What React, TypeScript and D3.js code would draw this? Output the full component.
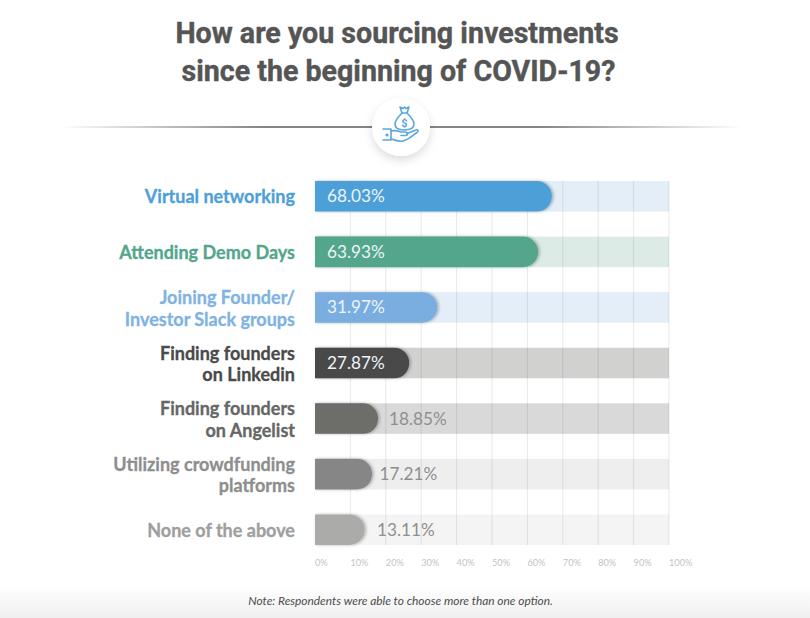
import React from "react";
import * as d3 from "d3";

const categories = [
  "Virtual networking",
  "Attending Demo Days",
  "Joining Founder/\nInvestor Slack groups",
  "Finding founders\non Linkedin",
  "Finding founders\non Angelist",
  "Utilizing crowdfunding\nplatforms",
  "None of the above",
];
// printed labels
const printedValues = ["68.03%", "63.93%", "31.97%", "27.87%", "18.85%", "17.21%", "13.11%"];
// bar lengths as measured on the axis, the source art does not follow its labels exactly
const drawnValues = [66.9, 63, 34.5, 26.6, 17.8, 16.1, 14];
const ticks = [0, 10, 20, 30, 40, 50, 60, 70, 80, 90, 100];

const barColors = ["#4e9fd8", "#52a68c", "#7aaee0", "#4a4a48", "#6d6d6b", "#868686", "#ababa9"];
const trackColors = ["#e3eef8", "#dcebe5", "#e3eef8", "#d1d1d0", "#d9d9d9", "#eeeeee", "#f4f4f4"];
const labelColors = ["#4e9fd8", "#52a68c", "#7fb3e3", "#4a4a4a", "#666666", "#8e8e8e", "#9e9e9e"];
const outsideGap: Record<number, number> = { 4: 11, 5: 7.5, 6: 12.5 };

const width = 810;
const height = 618;
const blue = "#5aa6dd";

const x = d3.scaleLinear().domain([0, 100]).range([315, 669]);
const y = d3.scaleBand<string>().domain(categories).range([181, 545]).paddingInner(0.45);

const barPath = (x1: number, y0: number, h: number) => {
  const p = d3.path();
  const r = 15;
  p.moveTo(x(0), y0);
  p.lineTo(x1 - r, y0);
  p.arcTo(x1, y0, x1, y0 + r, r);
  p.lineTo(x1, y0 + h - r);
  p.arcTo(x1, y0 + h, x1 - r, y0 + h, r);
  p.lineTo(x(0), y0 + h);
  p.closePath();
  return p.toString();
};

const MoneyIcon = () => (
  <g transform="translate(401 127)" fill="none" stroke={blue} strokeWidth={1.6} strokeLinejoin="round" strokeLinecap="round">
    {/* bag */}
    <path d="M1 -14 C-3 -10 -6 -6 -6 -3 C-6 1 -3 3 3 3 C9 3 13 1 13 -3 C13 -6 10 -10 6 -14 Z" />
    <path d="M1 -14 L-1 -20 L2 -18.500 L3.500 -20 L5 -18.500 L8 -20 L6 -14" />
    <text x={3.500} y={0} textAnchor="middle" fontFamily="Roboto, sans-serif" fontWeight={700} fontSize={11} fill={blue} stroke="none">$</text>
    {/* hand */}
    <path d="M-18 2 L-10 2 L-10 13 L-18 13" />
    <path d="M-10 4 C-6 3 -3 4 0 5 L5 5 C7 5.500 7 8 5 8.500 L0 8.500" />
    <path d="M6 6.500 L15 3 C17 2.500 18 4.500 16 5.500 C11 9 7 13 2 14 C-2 15 -6 13 -10 12" />
    <circle cx={-14} cy={8} r={0.8} fill={blue} />
  </g>
);

export default function App() {
  return (
    <svg width={width} height={height} style={{ position: "absolute", left: 0, top: 0 }}>
      <defs>
        <filter id="barShadow" x="-10%" y="-20%" width="120%" height="140%">
          <feDropShadow dx={1.5} dy={0} stdDeviation={1.5} floodColor="#000" floodOpacity={0.3} />
        </filter>
        <filter id="circleShadow" x="-40%" y="-40%" width="180%" height="180%">
          <feDropShadow dx={0} dy={4} stdDeviation={5} floodColor="#000" floodOpacity={0.14} />
        </filter>
        <linearGradient id="ruleFade" x1="0" x2="1" y1="0" y2="0">
          <stop offset="0" stopColor="#777" stopOpacity={0} />
          <stop offset="0.3" stopColor="#777" stopOpacity={0.9} />
          <stop offset="0.7" stopColor="#777" stopOpacity={0.9} />
          <stop offset="1" stopColor="#777" stopOpacity={0} />
        </linearGradient>
        <linearGradient id="footerFade" x1="0" x2="0" y1="0" y2="1">
          <stop offset="0" stopColor="#ffffff" />
          <stop offset="1" stopColor="#f0f0f0" />
        </linearGradient>
      </defs>

      <rect width={width} height={height} fill="#fff" />
      <rect y={585} width={width} height={33} fill="url(#footerFade)" />

      <g fontFamily="Roboto, sans-serif" fontWeight={700} fontSize={28.600} fill="#555555" stroke="#555555" strokeWidth={0.4} textAnchor="middle">
        <text x={397} y={43}>How are you sourcing investments</text>
        <text x={398.500} y={81}>since the beginning of COVID-19?</text>
      </g>

      <rect x={60} y={126} width={682} height={2} fill="url(#ruleFade)" />
      <circle cx={401} cy={127} r={29} fill="#fff" filter="url(#circleShadow)" />
      <MoneyIcon />

      {/* row tracks */}
      {categories.map((c, i) => (
        <rect key={c} x={x(0)} y={y(c)} width={x(100) - x(0)} height={y.bandwidth()} fill={trackColors[i]} />
      ))}

      {/* grid */}
      {ticks.slice(1).map((t) => (
        <line key={t} x1={x(t)} x2={x(t)} y1={181} y2={545} stroke="#000" strokeOpacity={0.09} strokeWidth={1} />
      ))}

      {categories.map((c, i) => {
        const y0 = y(c) as number;
        const inside = i < 4;
        const end = x(drawnValues[i]);
        return (
          <g key={c}>
            <path d={barPath(end, y0, y.bandwidth())} fill={barColors[i]} filter="url(#barShadow)" />
            <text
              x={inside ? x(0) + 12 : end + outsideGap[i]}
              y={y0 + y.bandwidth() / 2 + 6}
              fontFamily="Lato, sans-serif"
              fontSize={17.200}
              fill={inside ? "#eef4f8" : "#8f8f8f"}
            >
              {printedValues[i]}
            </text>
            <text
              x={295}
              textAnchor="end"
              fontFamily="Lato, sans-serif"
              fontWeight={700}
              fontSize={18}
              fill={labelColors[i]}
              stroke={labelColors[i]}
              strokeWidth={0.3}
            >
              {c.split("\n").map((line, k, all) => (
                <tspan key={k} x={295} y={y0 + y.bandwidth() / 2 + 7 + (all.length - 1) * 0.5 + (k - (all.length - 1) / 2) * 21.500}>
                  {line}
                </tspan>
              ))}
            </text>
          </g>
        );
      })}

      {ticks.map((t) => (
        <text key={t} x={x(t)} y={566} fontFamily="Lato, sans-serif" fontSize={9.200} fill="#c4c4c4">
          {t}%
        </text>
      ))}

      <text x={400.500} y={605} textAnchor="middle" fontFamily="Lato, sans-serif" fontStyle="italic" fontSize={11.900} fill="#4d4d4d">
        Note: Respondents were able to choose more than one option.
      </text>
    </svg>
  );
}
